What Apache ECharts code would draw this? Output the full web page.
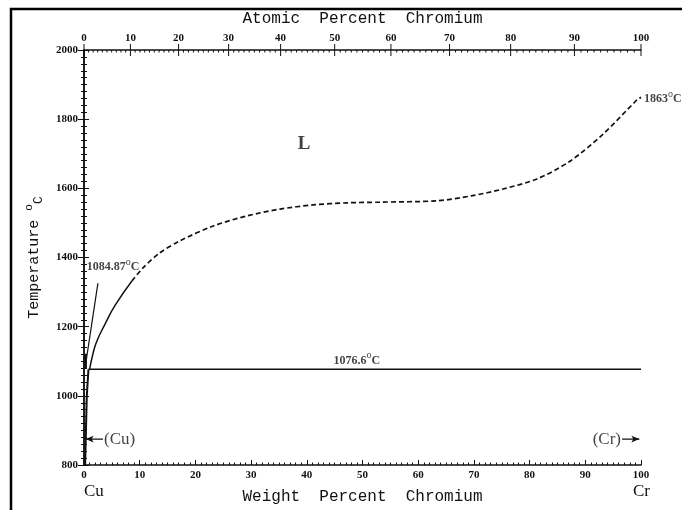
<!DOCTYPE html>
<html>
<head>
<meta charset="UTF-8">
<title>Cu-Cr</title>
<script src="https://cdn.jsdelivr.net/npm/echarts@6/dist/echarts.min.js"></script>
<style>
  html, body { margin: 0; padding: 0; background: #fff; }
  #main { width: 682px; height: 510px; }
</style>
</head>
<body>
<div id="main"></div>
<script type="text/javascript">

// liquidus, solid part (wt% Cr, deg C)
var liqSolidWt = [1.0, 1.6, 2.3, 3.8, 5.6, 8.6];
var liqSolidT = [1076.6, 1121, 1158, 1208, 1262, 1332];
// liquidus, dashed part
var liqDashWt = [8.6, 10.6, 13.5, 17.2, 23.2, 29.2, 35.2, 41.1, 47.2, 53.1, 63.4, 69.5, 75.2, 81.3, 87.3, 93.2, 99.3, 100];
var liqDashT = [1332, 1370, 1412, 1448, 1491, 1520, 1540, 1552, 1558, 1560, 1564, 1578, 1598, 1627, 1679, 1757, 1856, 1863];
// eutectic
var eutWt = [0.8, 100];
var eutT = [1076.6, 1076.6];
// (Cu) solvus
var solvusWt = [0.8, 0.5, 0.2];
var solvusT = [1076.6, 1000, 800];
// Cu melting point mark and its leader
var cuMarkWt = [0.25, 0.25];
var cuMarkT = [1080, 1122];
var leaderWt = [0.3, 2.5];
var leaderT = [1092, 1326];
// top axis, atomic percent
var massCu = 63.546, massCr = 51.996;

function zip(a, b) { return a.map(function (v, i) { return [v, b[i]]; }); }
function atToWt(at) {
	return at * massCr / (at * massCr + (100 - at) * massCu) * 100;
}

var topTicks = [];
for (var a = 0; a <= 100; a++) {
	topTicks.push([atToWt(a), a % 10 === 0 ? 1 : 0, a]);
}

var ink = '#111';
var degRich = {
	t: { fontFamily: 'Liberation Serif', fontSize: 12, fontWeight: 'bold', color: ink, lineHeight: 16, verticalAlign: 'bottom' },
	s: { fontFamily: 'Liberation Serif', fontSize: 10, color: ink, lineHeight: 16, verticalAlign: 'top' }
};

function note(x, y, text, pos, extra) {
	var lab = Object.assign({ show: true, position: pos, formatter: text, rich: degRich, color: ink }, extra || {});
	return { value: [x, y], label: lab };
}

var notes = [
	note(0.5, 1378, '{t|1084.87}{s|o}{t|C}', 'right', { distance: 0 }),
	note(100, 1863, '{t|1863}{s|o}{t|C}', 'right', { distance: 3 }),
	note(49, 1107, '{t|1076.6}{s|o}{t|C}', 'inside'),
	note(39.5, 1728, 'L', 'inside', { fontFamily: 'Liberation Serif', fontSize: 19, fontWeight: 'bold' }),
	note(3.6, 875, '(Cu)', 'right', { distance: 0, fontFamily: 'Liberation Serif', fontSize: 17 }),
	note(96.4, 875, '(Cr)', 'left', { distance: 0, fontFamily: 'Liberation Serif', fontSize: 17 })
];

var myChart = echarts.init(document.getElementById('main'));
var line = { color: ink, width: 1.5 };
var tickFont = { fontFamily: 'Liberation Serif', fontSize: 11, fontWeight: 'bold', color: ink };

var option = {
	animation: false,
	backgroundColor: '#fff',
	grid: { left: 84, top: 50, width: 557, height: 415 },
	graphic: [
		{ type: 'rect', shape: { x: 11, y: 9, width: 720, height: 600 }, style: { fill: 'none', stroke: '#000', lineWidth: 2.5 } },
		{ type: 'text', left: 84, top: 483, style: { text: 'Cu', fontFamily: 'Liberation Serif', fontSize: 17, fill: ink } },
		{ type: 'text', left: 633, top: 483, style: { text: 'Cr', fontFamily: 'Liberation Serif', fontSize: 17, fill: ink } }
	],
	xAxis: [
		{
			type: 'value', min: 0, max: 100, interval: 10, position: 'bottom',
			name: 'Weight  Percent  Chromium', nameLocation: 'middle', nameGap: 24,
			nameTextStyle: { fontFamily: 'Liberation Mono', fontSize: 16, color: ink },
			axisLine: { lineStyle: { color: ink, width: 1.5 } },
			axisTick: { inside: true, length: 5, lineStyle: { color: ink } },
			minorTick: { show: true, splitNumber: 10, length: 2.5, lineStyle: { color: ink } },
			axisLabel: Object.assign({ margin: 5 }, tickFont),
			splitLine: { show: false }
		},
		{
			type: 'value', min: 0, max: 100, position: 'top',
			name: 'Atomic  Percent  Chromium', nameLocation: 'middle', nameGap: 23,
			nameTextStyle: { fontFamily: 'Liberation Mono', fontSize: 16, color: ink },
			axisLine: { lineStyle: { color: ink, width: 1.5 } },
			axisTick: { show: false }, axisLabel: { show: false }, splitLine: { show: false }
		}
	],
	yAxis: [
		{
			type: 'value', min: 800, max: 2000, interval: 200, position: 'left',
			name: '{a|Temperature }{o|o}{c|C}', nameLocation: 'middle', nameGap: 38,
			nameTextStyle: {
				rich: {
					a: { fontFamily: 'Liberation Mono', fontSize: 15, color: ink, lineHeight: 22, verticalAlign: 'middle' },
					o: { fontFamily: 'Liberation Mono', fontSize: 11, color: ink, lineHeight: 22, verticalAlign: 'top' },
					c: { fontFamily: 'Liberation Mono', fontSize: 13, color: ink, lineHeight: 22, verticalAlign: 'bottom' }
				}
			},
			axisLine: { show: true, lineStyle: { color: ink, width: 1.5 } },
			axisTick: { show: true, length: 6, lineStyle: { color: ink } },
			minorTick: { show: true, splitNumber: 10, length: 3, lineStyle: { color: ink } },
			axisLabel: Object.assign({ margin: 6, formatter: function (v) { return String(v); } }, tickFont),
			splitLine: { show: false }
		},
		{
			type: 'value', min: 800, max: 2000, interval: 200, position: 'right',
			axisLine: { show: true, lineStyle: { color: ink, width: 1.5 } },
			axisTick: { show: true, length: 5, lineStyle: { color: ink } },
			minorTick: { show: true, splitNumber: 10, length: 3, lineStyle: { color: ink } },
			axisLabel: { show: false },
			splitLine: { show: false }
		}
	],
	series: [
		{ type: 'line', data: zip(liqSolidWt, liqSolidT), smooth: 0.5, symbol: 'none', lineStyle: line, silent: true },
		{ type: 'line', data: zip(liqDashWt, liqDashT), smooth: 0.3, symbol: 'none', silent: true,
			lineStyle: { color: ink, width: 1.7, type: [5, 3] } },
		{ type: 'line', data: zip(eutWt, eutT), symbol: 'none', lineStyle: line, silent: true },
		{ type: 'line', data: zip(solvusWt, solvusT), symbol: 'none', lineStyle: { color: ink, width: 2 }, silent: true },
		{ type: 'line', data: zip(cuMarkWt, cuMarkT), symbol: 'none', lineStyle: { color: ink, width: 3 }, silent: true },
		{ type: 'line', data: zip(leaderWt, leaderT), symbol: 'none', lineStyle: { color: ink, width: 1.2 }, silent: true },
		{ type: 'line', silent: true, lineStyle: { color: ink, width: 1.2 }, itemStyle: { color: ink },
			data: [{ value: [3.4, 875], symbol: 'none' }, { value: [0.3, 875], symbol: 'arrow', symbolSize: [5, 8], symbolRotate: 90 }] },
		{ type: 'line', silent: true, lineStyle: { color: ink, width: 1.2 }, itemStyle: { color: ink },
			data: [{ value: [96.6, 875], symbol: 'none' }, { value: [99.7, 875], symbol: 'arrow', symbolSize: [5, 8], symbolRotate: -90 }] },
		{ type: 'scatter', data: notes, symbolSize: 0, silent: true },
		{
			type: 'custom', silent: true, clip: false, data: topTicks,
			renderItem: function (params, api) {
				var p = api.coord([api.value(0), 2000]);
				var major = api.value(1) === 1;
				var kids = [{
					type: 'line',
					shape: { x1: p[0], y1: p[1] - (major ? 6 : 0), x2: p[0], y2: p[1] + (major ? 6 : 2.5) },
					style: { stroke: ink, lineWidth: 1 }
				}];
				if (major) {
					kids.push({
						type: 'text', x: p[0], y: p[1] - 6,
						style: Object.assign({ text: String(api.value(2)), fill: ink, align: 'center', verticalAlign: 'bottom' }, tickFont)
					});
				}
				return { type: 'group', children: kids };
			}
		}
	]
};
myChart.setOption(option, true);

</script>
</body>
</html>
